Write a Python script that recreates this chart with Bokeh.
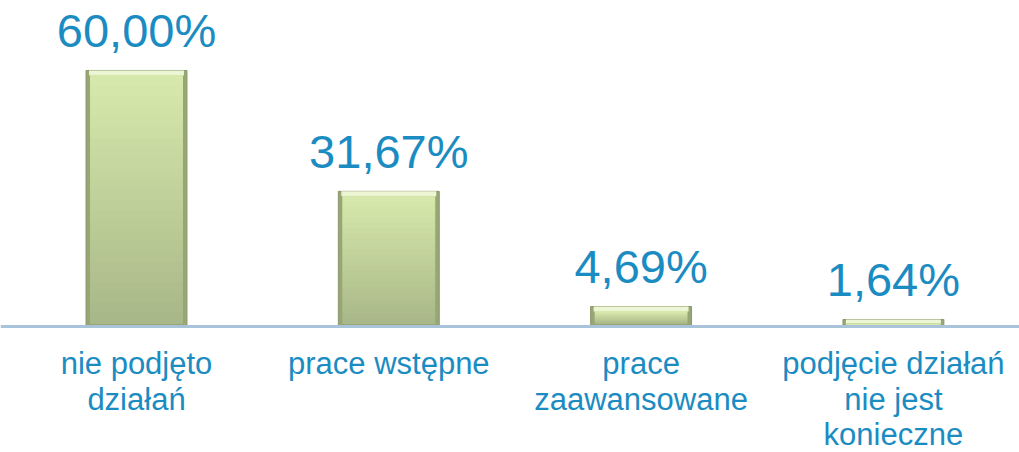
from bokeh.plotting import figure
from bokeh.models import Range1d, ColumnDataSource, Span
from bokeh.core.properties import value
from bokeh.embed import file_html
from bokeh.resources import INLINE

categories = ["nie podjęto\ndziałań", "prace wstępne", "prace\nzaawansowane", "podjęcie działań\nnie jest\nkonieczne"]
values = [60.00, 31.67, 4.69, 1.64]
labels = ["60,00%", "31,67%", "4,69%", "1,64%"]

xs = list(range(len(categories)))
W, H = 1019, 452
px_x = 252.3   # pixels per category unit
px_y = 4.267   # pixels per percent
x0 = -136 / px_x
line_px = 35.5

itop = [max(v - 5 / px_y, v * 0.3) for v in values]
ibot = [min(3 / px_y, v * 0.3) for v in values]
src = ColumnDataSource(dict(
    x=xs, top=values, lab=labels, itop=itop, ibot=ibot,
    zero=[0] * len(values),
))

# vertical shading of the bar faces (styling only)
light = (0xd6, 0xe8, 0xab)
dark = (0xa9, 0xb8, 0x88)
N = 24
gx, gb, gt, gc = [], [], [], []
for i in xs:
    h = itop[i] - ibot[i]
    for k in range(N):
        f = k / (N - 1)
        col = tuple(round(dark[c] + (light[c] - dark[c]) * f) for c in range(3))
        gx.append(i)
        gb.append(ibot[i] + h * k / N)
        gt.append(ibot[i] + h * (k + 1) / N)
        gc.append("#%02x%02x%02x" % col)
gsrc = ColumnDataSource(dict(x=gx, b=gb, t=gt, c=gc))

# one row per label line
lx, ly, lt, loff = [], [], [], []
for i, c in enumerate(categories):
    for j, ln in enumerate(c.split("\n")):
        lx.append(i)
        ly.append(0)
        lt.append(ln)
        loff.append(37 + j * line_px)
lsrc = ColumnDataSource(dict(x=lx, y=ly, t=lt, off=loff))

p = figure(width=W, height=H, output_backend="svg", toolbar_location=None,
           x_range=Range1d(x0, x0 + W / px_x),
           y_range=Range1d(-(H - 326) / px_y, 326 / px_y),
           min_border=0, outline_line_color=None, background_fill_color="white",
           border_fill_color="white")
p.axis.visible = False
p.grid.visible = False

# baseline
p.add_layout(Span(location=0, dimension="width", line_color="#a9c4da", line_width=3))

# bar outer (bevel edge)
p.vbar(x="x", top="top", bottom="zero", width=0.4, source=src,
       fill_color="#98a676", line_color="#8a9868", line_width=1)
# top light bevel
p.vbar(x="x", top="top", bottom="itop", width=0.4 - 6 / px_x, source=src,
       fill_color="#ecf5d4", line_color=None)
# face with vertical shading
p.vbar(x="x", top="t", bottom="b", width=0.4 - 9 / px_x, source=gsrc,
       fill_color="c", line_color="c", line_width=1)

# value labels
p.text(x="x", y="top", text="lab", source=src, text_align="center",
       text_baseline="alphabetic", y_offset=-40, text_color="#1b8cc2",
       text_font=value("Liberation Sans"), text_font_size="47px")

# category labels
p.text(x="x", y="y", text="t", source=lsrc, text_align="center",
       text_baseline="middle", y_offset="off", text_color="#1b8cc2",
       text_font=value("Liberation Sans"), text_font_size="31px")

open("out.html", "w").write(file_html(p, INLINE))
